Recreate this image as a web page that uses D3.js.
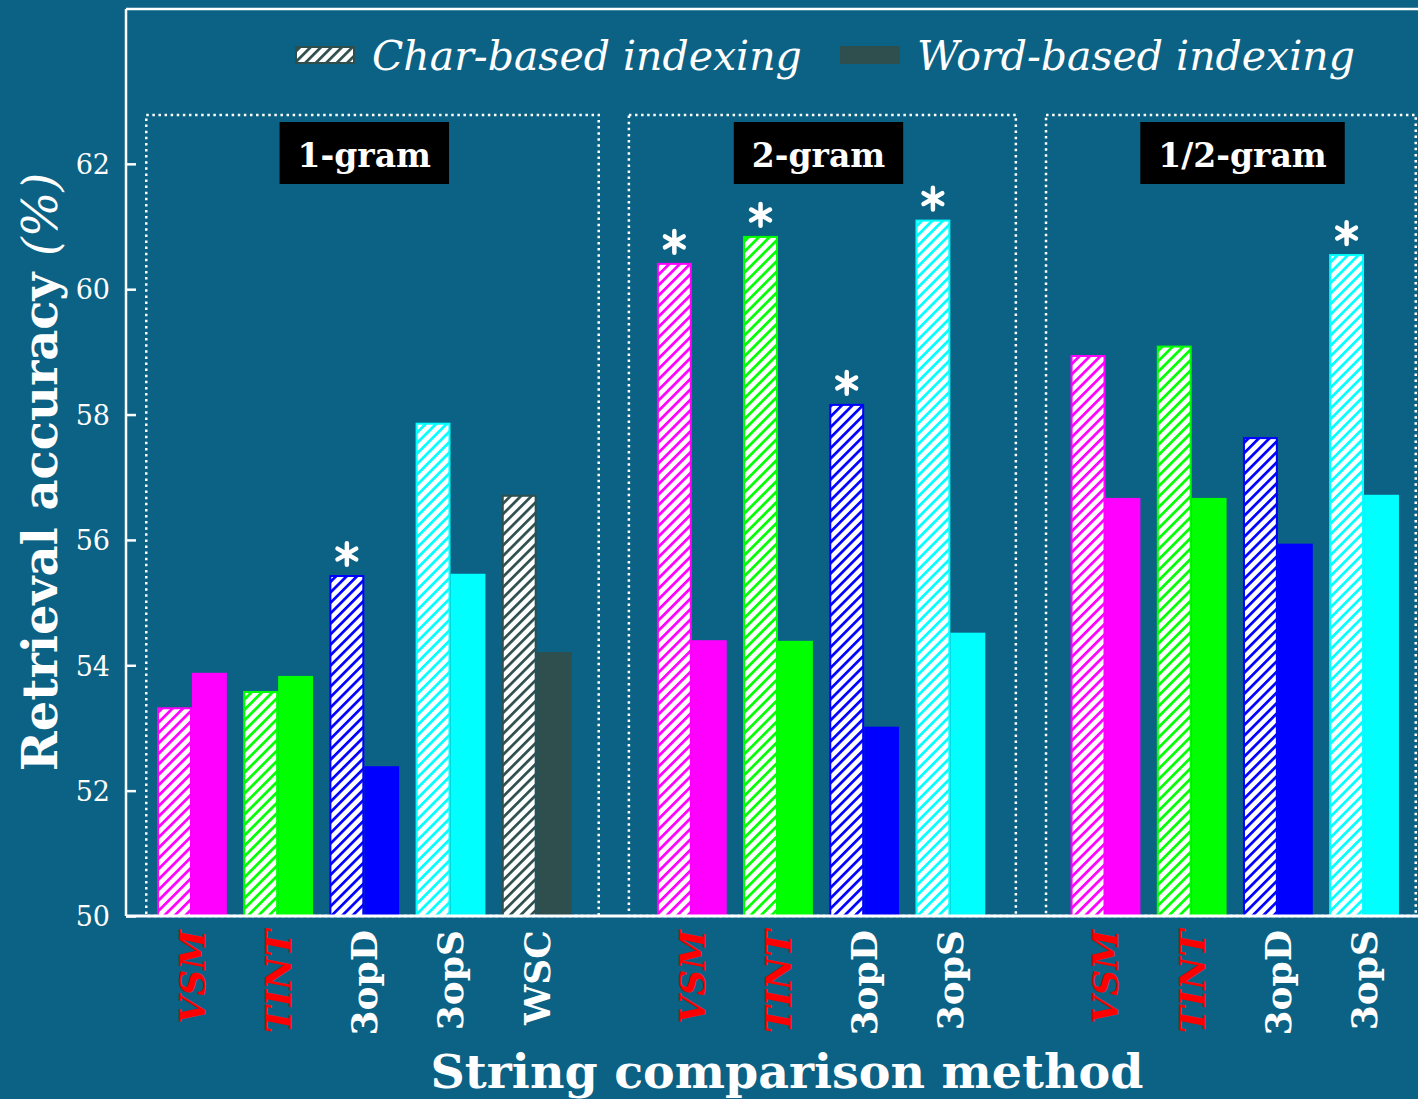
<!DOCTYPE html>
<html>
<head>
<meta charset="utf-8">
<script src="https://cdn.jsdelivr.net/npm/d3@7"></script>
<style>
  html, body { margin: 0; padding: 0; background: #0b6285; }
  svg { display: block; }
</style>
</head>
<body>
<svg id="chart" width="1418" height="1099"></svg>
<script>
// Retrieval accuracy by string comparison method, grouped by n-gram indexing
const groupNames = ["1-gram", "2-gram", "1/2-gram"];
const methodsByGroup = [
  ["VSM", "TINT", "3opD", "3opS", "WSC"],
  ["VSM", "TINT", "3opD", "3opS"],
  ["VSM", "TINT", "3opD", "3opS"]
];
const charBased = [
  [53.33, 53.59, 55.44, 57.87, 56.72],
  [60.42, 60.85, 58.17, 61.11],
  [58.95, 59.10, 57.64, 60.56]
];
const wordBased = [
  [53.88, 53.83, 52.39, 55.46, 54.21],
  [54.40, 54.39, 53.02, 54.52],
  [56.67, 56.67, 55.94, 56.72]
];
const significant = [
  [false, false, true, false, false],
  [true, true, true, true],
  [false, false, false, true]
];
const methodColors = { VSM: "#ff00ff", TINT: "#00ff00", "3opD": "#0000ff", "3opS": "#00ffff", WSC: "#2f4f4f" };
const italicMethods = ["VSM", "TINT"];
const yTicks = [50, 52, 54, 56, 58, 60, 62];
const legendLabels = ["Char-based indexing", "Word-based indexing"];

const bg = "#0b6285";
const serif = "'DejaVu Serif', 'Liberation Serif', serif";
const svg = d3.select("#chart");
svg.append("rect").attr("width", 1418).attr("height", 1099).attr("fill", bg);

// Slot positions: consecutive methods in a group, groups separated by a gap
const groupGap = 0.8;
const groupStart = [];
let cursor = 0;
methodsByGroup.forEach((m, g) => { groupStart.push(cursor); cursor += m.length + groupGap; });

const bars = [];
methodsByGroup.forEach((methods, g) => {
  methods.forEach((m, i) => {
    bars.push({ g, method: m, pos: groupStart[g] + i, char: charBased[g][i], word: wordBased[g][i], sig: significant[g][i] });
  });
});

const x = d3.scaleLinear().domain([-0.765, 14.226]).range([126, 1418]);
const y = d3.scaleLinear().domain([50, 64.47]).range([916, 9]);
const halfW = 0.405;

// Hatch patterns: white ground with diagonal coloured stripes
const defs = svg.append("defs");
Object.entries(methodColors).forEach(([m, c]) => {
  const p = defs.append("pattern")
    .attr("id", "hatch-" + m.replace(/[^A-Za-z0-9]/g, ""))
    .attr("patternUnits", "userSpaceOnUse")
    .attr("width", 7.4).attr("height", 7.4)
    .attr("patternTransform", "rotate(45)");
  p.append("rect").attr("width", 7.4).attr("height", 7.4).attr("fill", "#ffffff");
  p.append("rect").attr("width", 2.7).attr("height", 7.4).attr("fill", c);
});
const hatchId = m => "url(#hatch-" + m.replace(/[^A-Za-z0-9]/g, "") + ")";

// Dotted group frames
const framePad = [[-0.53, 0.72], [-0.73, 0.76], [-0.69, 0.60]];
const frameTop = 62.78;
methodsByGroup.forEach((methods, g) => {
  const x0 = x(groupStart[g] + framePad[g][0]);
  const x1 = x(groupStart[g] + methods.length - 1 + framePad[g][1]);
  svg.append("rect")
    .attr("x", x0).attr("y", y(frameTop))
    .attr("width", x1 - x0).attr("height", y(50) - y(frameTop))
    .attr("fill", "none").attr("stroke", "#ffffff")
    .attr("stroke-width", 2.5).attr("stroke-dasharray", "2.5,3.6");
});

// Bars
const barG = svg.append("g");
barG.selectAll("rect.char").data(bars).join("rect")
  .attr("class", "char")
  .attr("x", d => x(d.pos - halfW) + 1)
  .attr("y", d => y(d.char) + 1)
  .attr("width", d => x(d.pos) - x(d.pos - halfW) - 2)
  .attr("height", d => y(50) - y(d.char) - 1)
  .attr("fill", d => hatchId(d.method))
  .attr("stroke", d => methodColors[d.method])
  .attr("stroke-width", 2);
barG.selectAll("rect.word").data(bars).join("rect")
  .attr("class", "word")
  .attr("x", d => x(d.pos))
  .attr("y", d => y(d.word))
  .attr("width", d => x(d.pos + halfW) - x(d.pos))
  .attr("height", d => y(50) - y(d.word))
  .attr("fill", d => methodColors[d.method]);

// Significance markers
const star = d3.symbol().type(d3.symbolAsterisk).size(330);
barG.selectAll("path.star").data(bars.filter(d => d.sig)).join("path")
  .attr("class", "star")
  .attr("d", star)
  .attr("transform", d => `translate(${x(d.pos - halfW / 2)},${y(d.char) - 21})`)
  .attr("fill", "none").attr("stroke", "#ffffff")
  .attr("stroke-width", 4.5).attr("stroke-linecap", "round");

// Group label boxes
const labelShift = [0, -0.03, 0.09];
methodsByGroup.forEach((methods, g) => {
  const cx = x(groupStart[g] + (methods.length - 1) / 2 + labelShift[g]);
  const lg = svg.append("g");
  const box = lg.append("rect").attr("fill", "#000000");
  const t = lg.append("text")
    .attr("x", cx).attr("y", 167)
    .attr("text-anchor", "middle")
    .attr("font-family", serif).attr("font-weight", "bold")
    .attr("font-size", 33).attr("fill", "#ffffff")
    .text(groupNames[g]);
  const w = t.node().getComputedTextLength() + 36;
  box.attr("x", cx - w / 2).attr("y", 122).attr("width", w).attr("height", 62);
});

// Axis frame
const frame = svg.append("g").attr("stroke", "#ffffff").attr("fill", "none");
frame.append("line").attr("x1", 126).attr("x2", 126).attr("y1", y.range()[1]).attr("y2", y(50)).attr("stroke-width", 2.5);
frame.append("line").attr("x1", 126).attr("x2", 1418).attr("y1", y.range()[1]).attr("y2", y.range()[1]).attr("stroke-width", 2.5);
frame.append("line").attr("x1", 126).attr("x2", 1418).attr("y1", y(50)).attr("y2", y(50)).attr("stroke-width", 3);

// Y axis with inward ticks
const yAxis = svg.append("g").attr("transform", "translate(126,0)")
  .call(d3.axisLeft(y).tickValues(yTicks).tickSize(-10).tickPadding(16).tickFormat(d3.format("d")));
yAxis.select(".domain").remove();
yAxis.selectAll(".tick line").attr("stroke", "#ffffff").attr("stroke-width", 2.5);
yAxis.selectAll(".tick text").attr("fill", "#ffffff")
  .attr("font-family", serif).attr("font-size", 27).attr("dy", "0.36em");

// Method labels under the bars
svg.append("g").selectAll("text").data(bars).join("text")
  .attr("transform", d => `translate(${x(d.pos)},930) rotate(-90)`)
  .attr("text-anchor", "end")
  .attr("dy", "0.36em")
  .attr("font-family", serif).attr("font-weight", "bold")
  .attr("font-style", d => italicMethods.includes(d.method) ? "italic" : "normal")
  .attr("font-size", 36)
  .attr("fill", d => italicMethods.includes(d.method) ? "#ff0000" : "#ffffff")
  .text(d => d.method);

// Axis titles
svg.append("text")
  .attr("x", 787).attr("y", 1088)
  .attr("text-anchor", "middle")
  .attr("font-family", serif).attr("font-weight", "bold")
  .attr("font-size", 47.5).attr("fill", "#ffffff")
  .text("String comparison method");

const yt = svg.append("text")
  .attr("transform", "translate(57,472) rotate(-90)")
  .attr("text-anchor", "middle")
  .attr("font-family", serif).attr("font-weight", "bold")
  .attr("font-size", 48).attr("fill", "#ffffff");
yt.append("tspan").text("Retrieval accuracy ");
yt.append("tspan").attr("font-style", "italic").attr("font-weight", "normal").text("(%)");

// Legend
const legend = svg.append("g");
legend.append("rect").attr("x", 296).attr("y", 47).attr("width", 58).attr("height", 16)
  .attr("fill", hatchId("WSC")).attr("stroke", methodColors.WSC).attr("stroke-width", 2);
legend.append("rect").attr("x", 840).attr("y", 46).attr("width", 60).attr("height", 18)
  .attr("fill", methodColors.WSC);
[[372, legendLabels[0]], [917, legendLabels[1]]].forEach(([lx, label]) => {
  legend.append("text")
    .attr("x", lx).attr("y", 70)
    .attr("font-family", serif).attr("font-style", "italic")
    .attr("font-size", 41).attr("fill", "#ffffff")
    .text(label);
});
</script>
</body>
</html>
